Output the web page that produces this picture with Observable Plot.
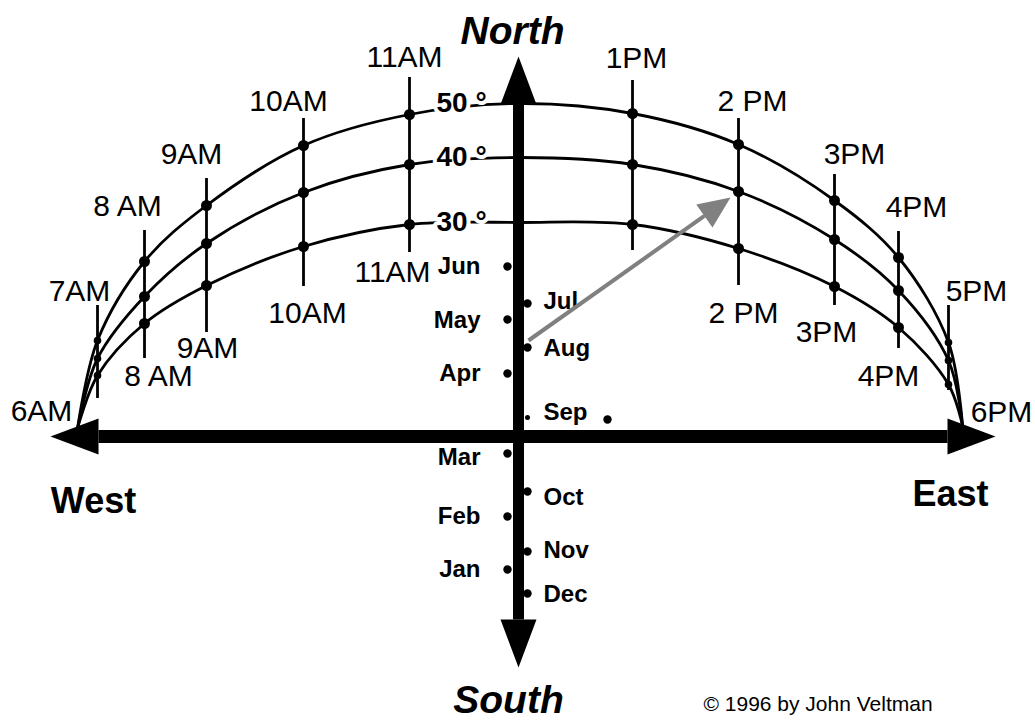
<!DOCTYPE html>
<html><head><meta charset="utf-8">
<script src="https://cdn.jsdelivr.net/npm/d3@7"></script>
<script src="https://cdn.jsdelivr.net/npm/@observablehq/plot@0.6"></script>
<style>html,body{margin:0;padding:0;background:#fff;overflow:hidden}#chart svg{display:block}</style>
</head><body><div id="chart"></div>
<script>
// Diagram units: x = east-west offset from the meridian, y = height above the horizon line.
const hours = ["6AM","7AM","8AM","9AM","10AM","11AM","Noon","1PM","2PM","3PM","4PM","5PM","6PM"];
const hourX = [-443,-423,-376,-314,-217,-111,0,112,218,314,378,428,442];
const altitudes = ["50 °","40 °","30 °"];
const arc50 = [8,96,175,231,291,322,333,323,292,236,179,94,11];
const arc40 = [8,78,140,193,244,272,279,272,245,197,146,76,11];
const arc30 = [8,61,113,151,190,212,214,212,188,150,109,52,11];

const lineHours = ["7AM","8AM","9AM","10AM","11AM","1PM","2PM","3PM","4PM","5PM"];
const lineTop = [131,206,258,318,359,356,318,262,205,131];
const lineBottom = [38,78,104,150,184,186,151,131,88,46];

const topLabels = ["11AM","10AM","9AM","8 AM","7AM","6AM","1PM","2 PM","3PM","4PM","5PM","6PM"];
const topLabelX = [-116,-232,-329,-393,-441,-479,116,232,334,396,456,481];
const topLabelY = [370,326,273,221,136,16,369,326,273,220,136,15];
const bottomLabels = ["11AM","10AM","9AM","8 AM","2 PM","3PM","4PM"];
const bottomLabelX = [-128,-213,-313,-362,223,306,368];
const bottomLabelY = [155,114,79,51,114,95,51];

const monthsLeft = ["Jun","May","Apr","Mar","Feb","Jan"];
const monthsLeftY = [170,117,63,-17,-80,-133];
const monthsLeftLabelY = [170,116,63,-21,-80,-133];
const monthsRight = ["Jul","Aug","Sep","Oct","Nov","Dec"];
const monthsRightY = [133,89,19,-55,-115,-157];
const monthsRightLabelY = [135,88,24,-61,-114,-158];
const extraDot = [{x: 87, y: 17}];

const compass = ["North","South","West","East"];
const compassX = [-8,-12,-427,430];
const compassY = [393,-276,-76,-69];
const axisEnds = {west: -470, east: 475, north: 380, south: -231, meridian: -2, horizon: 0};
const pointer = {x1: 8, y1: 96, x2: 210, y2: 239};
const credit = "© 1996 by John Veltman";
const creditPos = {x: 183, y: -274};

// ---- build tables ----
const arcRows = [];
[arc50, arc40, arc30].forEach((arr, k) => arr.forEach((y, i) => arcRows.push({alt: altitudes[k], x: hourX[i], y})));
const lineRows = lineHours.map((h, i) => ({hour: h, x: hourX[hours.indexOf(h)], top: lineTop[i], bottom: lineBottom[i]}));
const dotRows = [];
[arc50, arc40, arc30].forEach(arr => lineHours.forEach(h => {
  const i = hours.indexOf(h);
  dotRows.push({hour: h, x: hourX[i], y: arr[i], small: h === "7AM" || h === "5PM"});
}));
const topRows = topLabels.map((t, i) => ({t, x: topLabelX[i], y: topLabelY[i]}));
const bottomRows = bottomLabels.map((t, i) => ({t, x: bottomLabelX[i], y: bottomLabelY[i]}));
const leftSideX = axisEnds.meridian - 11, rightSideX = axisEnds.meridian + 9;
const monthRows = [
  ...monthsLeft.map((m, i) => ({m, side: "L", x: leftSideX, y: monthsLeftY[i], ly: monthsLeftLabelY[i]})),
  ...monthsRight.map((m, i) => ({m, side: "R", x: rightSideX, y: monthsRightY[i], ly: monthsRightLabelY[i]}))
];
const apex = [{t: altitudes[0], y: arc50[6]}, {t: altitudes[1], y: arc40[6]}, {t: altitudes[2], y: arc30[6]}];

const HL = 48, HW = 18;
const A = axisEnds;
const heads = [
  {id: "w", pts: [[A.west, A.horizon], [A.west + HL, A.horizon + HW], [A.west + HL, A.horizon - HW]]},
  {id: "e", pts: [[A.east, A.horizon], [A.east - HL, A.horizon + HW], [A.east - HL, A.horizon - HW]]},
  {id: "n", pts: [[A.meridian, A.north], [A.meridian - HW, A.north - HL], [A.meridian + HW, A.north - HL]]},
  {id: "s", pts: [[A.meridian, A.south], [A.meridian - HW, A.south + HL], [A.meridian + HW, A.south + HL]]}
].flatMap(h => h.pts.map(([x, y]) => ({id: h.id, x, y})));
const shafts = [
  {x1: A.west + HL, x2: A.east - HL, y1: A.horizon, y2: A.horizon, w: 13},
  {x1: A.meridian, x2: A.meridian, y1: A.north - HL, y2: A.south + HL, w: 11}
];
const dx = pointer.x2 - pointer.x1, dy = pointer.y2 - pointer.y1, len = Math.hypot(dx, dy);
const ux = dx / len, uy = dy / len, PL = 32, PW = 14;
const bx = pointer.x2 - ux * PL, by = pointer.y2 - uy * PL;
const pointerHead = [
  {x: pointer.x2, y: pointer.y2},
  {x: bx - uy * PW, y: by + ux * PW},
  {x: bx + uy * PW, y: by - ux * PW}
];
const pointerShaft = [{x1: pointer.x1, y1: pointer.y1, x2: bx, y2: by}];

const font = "Liberation Sans, Arial, Helvetica, sans-serif";
const chart = Plot.plot({
  width: 1035, height: 721, margin: 0,
  x: {domain: [-520, 515], axis: null},
  y: {domain: [-285, 436], axis: null},
  style: {fontFamily: font, background: "white"},
  marks: [
    Plot.line(arcRows, {x: "x", y: "y", z: "alt", curve: "catmull-rom", stroke: "black", strokeWidth: 2.8}),
    Plot.ruleX(lineRows, {x: "x", y1: "bottom", y2: "top", stroke: "black", strokeWidth: 2.8}),
    Plot.link(shafts, {x1: "x1", x2: "x2", y1: "y1", y2: "y2", stroke: "black", strokeWidth: d => d.w}),
    Plot.line(heads, {x: "x", y: "y", z: "id", curve: "linear-closed", fill: "black", stroke: "none"}),
    Plot.dot(dotRows.filter(d => !d.small), {x: "x", y: "y", r: 5.5, fill: "black", stroke: "none"}),
    Plot.dot(dotRows.filter(d => d.small), {x: "x", y: "y", r: 3.8, fill: "black", stroke: "none"}),
    Plot.dot(monthRows.filter(d => d.m !== "Sep"), {x: "x", y: "y", r: 4.2, fill: "black", stroke: "none"}),
    Plot.dot(monthRows.filter(d => d.m === "Sep"), {x: "x", y: "y", r: 2.5, fill: "black", stroke: "none"}),
    Plot.dot(extraDot, {x: "x", y: "y", r: 4.2, fill: "black", stroke: "none"}),
    Plot.text(topRows, {x: "x", y: "y", text: "t", lineAnchor: "bottom", textAnchor: "middle", fontSize: 30, fill: "black"}),
    Plot.text(bottomRows, {x: "x", y: "y", text: "t", lineAnchor: "bottom", textAnchor: "middle", fontSize: 30, fill: "black"}),
    Plot.text(monthRows.filter(d => d.side === "L"), {x: d => d.x - 27, y: "ly", text: "m", textAnchor: "end", lineAnchor: "middle", fontSize: 24, fontWeight: "bold", fill: "black"}),
    Plot.text(monthRows.filter(d => d.side === "R"), {x: d => d.x + 16, y: "ly", text: "m", textAnchor: "start", lineAnchor: "middle", fontSize: 24, fontWeight: "bold", fill: "black"}),
    Plot.text(apex, {x: -84, y: "y", text: "t", textAnchor: "start", lineAnchor: "middle", fontSize: 28, fontWeight: "bold", fill: "black", stroke: "white", strokeWidth: 8}),
    Plot.link(pointerShaft, {x1: "x1", y1: "y1", x2: "x2", y2: "y2", stroke: "#808080", strokeWidth: 4}),
    Plot.line(pointerHead, {x: "x", y: "y", curve: "linear-closed", fill: "#808080", stroke: "none"}),
    Plot.text(compass.slice(0, 2).map((t, i) => ({t, x: compassX[i], y: compassY[i]})), {x: "x", y: "y", text: "t", lineAnchor: "bottom", textAnchor: "middle", fontSize: 39, fontWeight: "bold", fontStyle: "italic", fill: "black"}),
    Plot.text(compass.slice(2).map((t, i) => ({t, x: compassX[i + 2], y: compassY[i + 2]})), {x: "x", y: "y", text: "t", lineAnchor: "bottom", textAnchor: "middle", fontSize: 36, fontWeight: "bold", fill: "black"}),
    Plot.text([creditPos], {x: "x", y: "y", text: () => credit, lineAnchor: "bottom", textAnchor: "start", fontSize: 21, fill: "black"})
  ]
});
document.getElementById("chart").appendChild(chart);
</script></body></html>
